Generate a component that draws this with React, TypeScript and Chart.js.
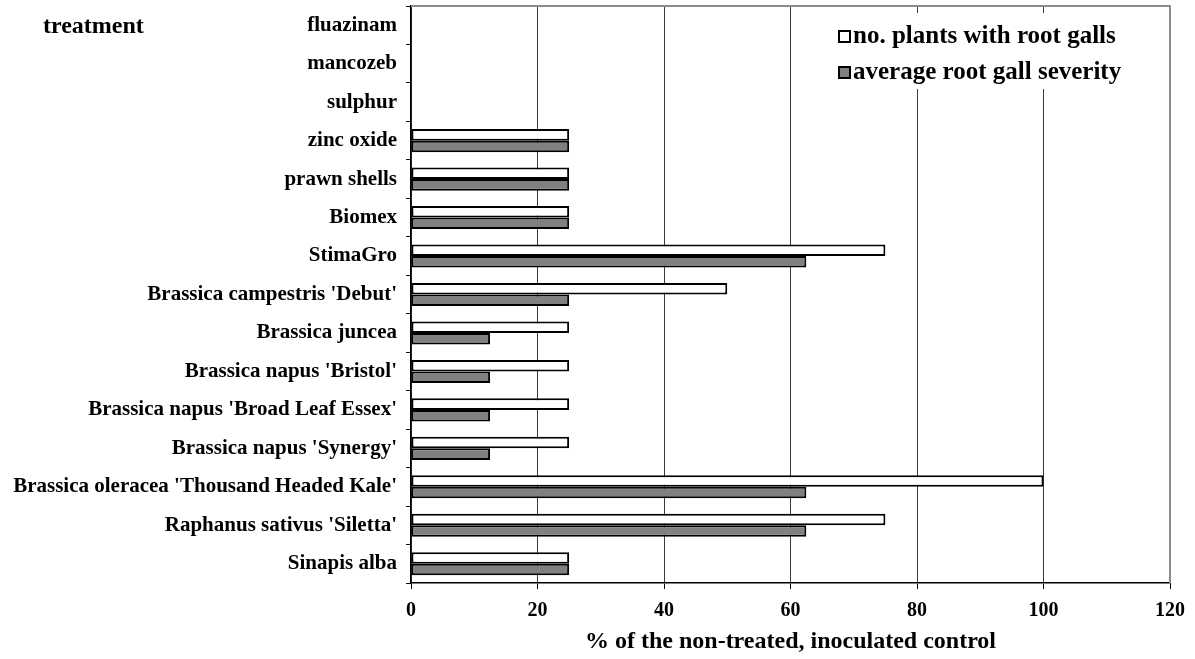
import React, { useEffect, useRef } from "react";
import { Chart, registerables } from "chart.js";

Chart.register(...registerables);

const categories = [
  "fluazinam",
  "mancozeb",
  "sulphur",
  "zinc oxide",
  "prawn shells",
  "Biomex",
  "StimaGro",
  "Brassica campestris 'Debut'",
  "Brassica juncea",
  "Brassica napus 'Bristol'",
  "Brassica napus 'Broad Leaf Essex'",
  "Brassica napus 'Synergy'",
  "Brassica oleracea 'Thousand Headed Kale'",
  "Raphanus sativus 'Siletta'",
  "Sinapis alba",
];

const plantsWithGalls = [0, 0, 0, 25, 25, 25, 75, 50, 25, 25, 25, 25, 100, 75, 25];
const gallSeverity = [0, 0, 0, 25, 25, 25, 62.5, 25, 12.5, 12.5, 12.5, 12.5, 62.5, 62.5, 25];

const seriesLabels = ["no. plants with root galls", "average root gall severity"];
const xTicks = [0, 20, 40, 60, 80, 100, 120];
const xTitle = "% of the non-treated, inoculated control";
const yTitle = "treatment";

const FONT = "'Liberation Serif', 'Times New Roman', serif";

export default function App() {
  const ref = useRef<HTMLCanvasElement | null>(null);

  useEffect(() => {
    if (!ref.current) return;
    const framePlugin = {
      id: "frame",
      beforeDatasetsDraw(chart: any) {
        const { ctx, chartArea } = chart;
        ctx.save();
        ctx.strokeStyle = "#8c8c8c";
        ctx.lineWidth = 2;
        ctx.beginPath();
        ctx.moveTo(chartArea.left, chartArea.top);
        ctx.lineTo(chartArea.right, chartArea.top);
        ctx.lineTo(chartArea.right, chartArea.bottom);
        ctx.stroke();
        ctx.restore();
      },
      afterDraw(chart: any) {
        const { ctx } = chart;
        ctx.save();
        // legend
        ctx.fillStyle = "#ffffff";
        ctx.fillRect(830, 13, 320, 76);
        const colors = ["#ffffff", "#808080"];
        const ys = [36, 72];
        ctx.font = `bold 25px ${FONT}`;
        ctx.textBaseline = "middle";
        ctx.textAlign = "left";
        for (let i = 0; i < 2; i++) {
          ctx.fillStyle = colors[i];
          ctx.fillRect(839, ys[i] - 5, 11, 11);
          ctx.strokeStyle = "#000";
          ctx.lineWidth = 2;
          ctx.strokeRect(839, ys[i] - 5, 11, 11);
          ctx.fillStyle = "#000";
          ctx.fillText(chart.data.datasets[i].label, 853, ys[i] + 1);
        }
        // y title
        ctx.font = `bold 24px ${FONT}`;
        ctx.fillText(yTitle, 43, 27);
        ctx.restore();
      },
    };

    const chart = new Chart(ref.current, {
      type: "bar",
      data: {
        labels: categories,
        datasets: [
          {
            label: seriesLabels[0],
            data: plantsWithGalls,
            backgroundColor: "#ffffff",
            borderColor: "#000000",
            borderWidth: 2,
            borderSkipped: false,
          },
          {
            label: seriesLabels[1],
            data: gallSeverity,
            backgroundColor: "#808080",
            borderColor: "#000000",
            borderWidth: 2,
            borderSkipped: false,
          },
        ],
      },
      options: {
        indexAxis: "y",
        animation: false,
        responsive: false,
        maintainAspectRatio: false,
        layout: { padding: { top: 6, right: 24, left: 0, bottom: 0 } },
        datasets: { bar: { categoryPercentage: 0.6, barPercentage: 1.0 } },
        plugins: {
          legend: { display: false },
          tooltip: { enabled: false },
        },
        scales: {
          x: {
            min: 0,
            max: 120,
            afterBuildTicks: (scale: any) => {
              scale.ticks = xTicks.map((v) => ({ value: v }));
            },
            afterFit: (scale: any) => {
              scale.height = 76;
            },
            ticks: {
              color: "#000",
              font: { family: FONT, size: 20, weight: "bold" },
              padding: 10,
            },
            grid: {
              color: "#3a3a3a",
              lineWidth: 1,
              tickLength: 6,
              tickColor: "#000",
            },
            border: { color: "#000", width: 1.5 },
            title: {
              display: true,
              text: xTitle,
              color: "#000",
              font: { family: FONT, size: 24, weight: "bold" },
              padding: { top: 0, bottom: 3 },
            },
          },
          y: {
            afterFit: (scale: any) => {
              scale.width = 411;
              scale.paddingTop = 0;
              scale.paddingBottom = 0;
            },
            ticks: {
              color: "#000",
              font: { family: FONT, size: 21, weight: "bold" },
              padding: 9,
              autoSkip: false,
            },
            grid: {
              drawOnChartArea: false,
              tickLength: 5,
              tickColor: "#000",
            },
            border: { color: "#000", width: 1.5 },
          },
        },
      },
      plugins: [framePlugin],
    } as any);
    return () => chart.destroy();
  }, []);

  return (
    <div style={{ position: "fixed", left: 0, top: 0, width: 1195, height: 659, background: "#fff" }}>
      <canvas ref={ref} width={1195} height={659} style={{ width: 1195, height: 659 }} />
    </div>
  );
}
